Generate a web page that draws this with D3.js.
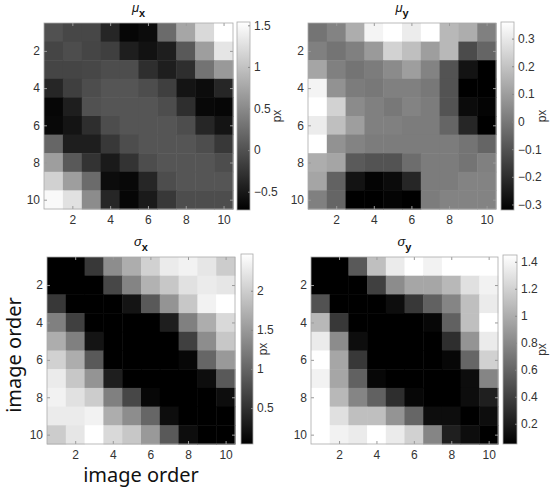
<!DOCTYPE html>
<html>
<head>
<meta charset="utf-8">
<script src="https://cdn.jsdelivr.net/npm/d3@7"></script>
<style>
  body { margin: 0; background: #fff; }
  text { font-family: "Liberation Sans", Arial, sans-serif; }
</style>
</head>
<body>
<script>
'use strict';

// image order 1..10 on both axes
const order = d3.range(1, 11);
const axisTicks = [2, 4, 6, 8, 10];

// mean x offset (px), rows = image order (top to bottom)
const muX = [
  [0.00, -0.09, -0.09, -0.38, -0.67, -0.61, 0.23, 0.75, 1.20, 1.54],
  [-0.11, -0.04, -0.11, -0.16, -0.45, -0.56, -0.45, 0.07, 0.68, 1.31],
  [-0.11, -0.11, -0.09, -0.04, -0.04, -0.31, -0.45, -0.31, 0.30, 0.64],
  [-0.38, -0.16, -0.04, 0.03, 0.03, -0.04, -0.16, -0.54, -0.61, -0.38],
  [-0.67, -0.45, 0.00, 0.03, 0.03, 0.03, -0.04, -0.31, -0.65, -0.67],
  [-0.65, -0.54, -0.31, -0.04, 0.03, 0.03, 0.03, -0.04, -0.38, -0.54],
  [0.18, -0.45, -0.45, -0.22, -0.04, 0.03, 0.03, 0.03, -0.04, -0.22],
  [0.68, 0.07, -0.27, -0.49, -0.27, -0.04, 0.03, 0.03, 0.03, -0.04],
  [1.13, 0.68, 0.23, -0.61, -0.65, -0.38, -0.04, 0.03, 0.03, 0.03],
  [1.49, 1.27, 0.52, -0.38, -0.67, -0.49, -0.22, -0.04, -0.04, -0.04]
];

// mean y offset (px)
const muY = [
  [-0.01, 0.03, 0.14, 0.33, 0.36, 0.31, 0.36, 0.17, 0.14, 0.02],
  [0.02, -0.01, 0.02, 0.09, 0.24, 0.19, 0.10, 0.17, -0.12, -0.05],
  [0.12, 0.02, -0.01, 0.01, 0.05, 0.10, 0.03, -0.10, -0.27, -0.32],
  [0.33, 0.07, 0.01, 0.00, 0.02, 0.02, 0.00, -0.10, -0.32, -0.32],
  [0.36, 0.24, 0.05, 0.02, 0.00, 0.03, 0.01, -0.10, -0.29, -0.31],
  [0.31, 0.19, 0.10, 0.02, 0.02, 0.01, 0.01, -0.05, -0.22, -0.32],
  [0.36, 0.07, 0.03, 0.01, 0.01, 0.01, 0.01, 0.01, -0.01, -0.05],
  [0.14, 0.12, -0.08, -0.10, -0.10, -0.03, 0.01, 0.01, -0.01, 0.02],
  [0.12, -0.06, -0.27, -0.31, -0.29, -0.22, 0.01, 0.01, 0.03, 0.03],
  [0.02, -0.05, -0.32, -0.32, -0.31, -0.32, 0.01, 0.03, 0.03, 0.03]
];

// spread in x (px)
const sigmaX = [
  [0.04, 0.04, 0.57, 1.38, 1.69, 2.03, 2.28, 2.35, 2.23, 1.98],
  [0.04, 0.04, 0.04, 0.72, 1.30, 1.74, 1.94, 2.18, 2.28, 2.23],
  [0.57, 0.04, 0.04, 0.04, 0.23, 0.89, 1.45, 1.94, 2.35, 2.47],
  [1.26, 0.65, 0.04, 0.04, 0.04, 0.04, 0.33, 1.26, 1.69, 2.11],
  [1.69, 1.26, 0.23, 0.04, 0.04, 0.04, 0.04, 0.65, 1.38, 1.94],
  [2.03, 1.69, 0.89, 0.04, 0.04, 0.04, 0.04, 0.11, 1.01, 1.50],
  [2.28, 1.94, 1.45, 0.33, 0.04, 0.04, 0.04, 0.04, 0.16, 0.89],
  [2.35, 2.18, 1.98, 1.26, 0.72, 0.11, 0.04, 0.04, 0.04, 0.16],
  [2.28, 2.28, 2.35, 1.69, 1.38, 1.01, 0.16, 0.04, 0.04, 0.04],
  [1.98, 2.23, 2.47, 2.11, 1.94, 1.50, 0.89, 0.16, 0.04, 0.04]
];

// spread in y (px)
const sigmaY = [
  [0.05, 0.05, 0.54, 1.10, 1.34, 1.45, 1.38, 1.45, 1.45, 1.45],
  [0.05, 0.05, 0.05, 0.40, 0.82, 0.96, 0.96, 1.06, 1.28, 1.38],
  [0.50, 0.05, 0.05, 0.05, 0.12, 0.36, 0.58, 0.78, 1.10, 1.34],
  [1.06, 0.36, 0.05, 0.05, 0.05, 0.05, 0.09, 0.58, 1.10, 1.45],
  [1.34, 0.82, 0.12, 0.05, 0.05, 0.05, 0.05, 0.30, 0.86, 1.34],
  [1.45, 0.96, 0.36, 0.05, 0.05, 0.05, 0.05, 0.09, 0.61, 1.20],
  [1.38, 0.96, 0.58, 0.09, 0.05, 0.05, 0.05, 0.05, 0.12, 0.78],
  [1.45, 1.06, 0.78, 0.58, 0.30, 0.09, 0.05, 0.05, 0.12, 0.22],
  [1.45, 1.28, 1.10, 1.10, 0.86, 0.61, 0.12, 0.12, 0.05, 0.12],
  [1.45, 1.38, 1.34, 1.45, 1.34, 1.20, 0.78, 0.22, 0.12, 0.05]
];

// colour limits and colorbar ticks
const muXLimits = [-0.72, 1.54];
const muYLimits = [-0.32, 0.36];
const sigmaXLimits = [0.04, 2.47];
const sigmaYLimits = [0.05, 1.45];
const muXTicks = [-0.5, 0, 0.5, 1, 1.5];
const muYTicks = [-0.3, -0.2, -0.1, 0, 0.1, 0.2, 0.3];
const sigmaXTicks = [0.5, 1, 1.5, 2];
const sigmaYTicks = [0.2, 0.4, 0.6, 0.8, 1, 1.2, 1.4];

const svg = d3.select('body')
  .append('svg')
  .attr('width', 550)
  .attr('height', 492);

const panels = [
  { grid: muX, limits: muXLimits, cbTicks: muXTicks, sym: 'μ', sub: 'x',
    box: { x: 44, y: 23, w: 189, h: 186 }, cb: { x: 237, y: 22, w: 13, h: 188 }, unitX: 281 },
  { grid: muY, limits: muYLimits, cbTicks: muYTicks, sym: 'μ', sub: 'y',
    box: { x: 308, y: 23, w: 188, h: 186 }, cb: { x: 501, y: 22, w: 13, h: 188 }, unitX: 546 },
  { grid: sigmaX, limits: sigmaXLimits, cbTicks: sigmaXTicks, sym: 'σ', sub: 'x',
    box: { x: 47, y: 257, w: 188, h: 187 }, cb: { x: 241, y: 254, w: 12, h: 190 }, unitX: 267 },
  { grid: sigmaY, limits: sigmaYLimits, cbTicks: sigmaYTicks, sym: 'σ', sub: 'y',
    box: { x: 311, y: 257, w: 187, h: 187 }, cb: { x: 503, y: 255, w: 14, h: 189 }, unitX: 546 }
];

const defs = svg.append('defs');
const grad = defs.append('linearGradient')
  .attr('id', 'grayRamp')
  .attr('x1', 0).attr('y1', 1).attr('x2', 0).attr('y2', 0);
grad.append('stop').attr('offset', '0%').attr('stop-color', '#000');
grad.append('stop').attr('offset', '100%').attr('stop-color', '#fff');

panels.forEach(drawPanel);

// shared axis labels
svg.append('text')
  .attr('transform', 'translate(21, 355) rotate(-90)')
  .attr('text-anchor', 'middle')
  .style('font-family', '"Noto Sans", sans-serif')
  .style('font-size', '20px')
  .attr('fill', '#111')
  .text('image order');

svg.append('text')
  .attr('x', 141)
  .attr('y', 482)
  .attr('text-anchor', 'middle')
  .style('font-family', '"Noto Sans", sans-serif')
  .style('font-size', '20px')
  .attr('fill', '#111')
  .text('image order');

function drawPanel(p) {
  const b = p.box;
  const g = svg.append('g');

  const xBand = d3.scaleBand().domain(order).range([b.x, b.x + b.w]);
  const yBand = d3.scaleBand().domain(order).range([b.y, b.y + b.h]);
  const xLin = d3.scaleLinear().domain([0.5, 10.5]).range([b.x, b.x + b.w]);
  const yLin = d3.scaleLinear().domain([0.5, 10.5]).range([b.y, b.y + b.h]);
  const color = d3.scaleLinear().domain(p.limits).range(['#000', '#fff']).clamp(true);

  // cells
  const cells = [];
  p.grid.forEach((row, i) => row.forEach((v, j) => cells.push({ r: order[i], c: order[j], v: v })));
  g.selectAll('rect.cell')
    .data(cells).enter()
    .append('rect')
      .attr('class', 'cell')
      .attr('x', d => xBand(d.c))
      .attr('y', d => yBand(d.r))
      .attr('width', xBand.bandwidth() + 0.5)
      .attr('height', yBand.bandwidth() + 0.5)
      .attr('fill', d => color(d.v));

  // axes with inward ticks
  const left = g.append('g')
    .attr('transform', 'translate(' + b.x + ',0)')
    .call(d3.axisLeft(yLin).tickValues(axisTicks).tickSize(-3).tickPadding(4));
  const bottom = g.append('g')
    .attr('transform', 'translate(0,' + (b.y + b.h) + ')')
    .call(d3.axisBottom(xLin).tickValues(axisTicks).tickSize(-3).tickPadding(6));
  g.append('g')
    .attr('transform', 'translate(' + (b.x + b.w) + ',0)')
    .call(d3.axisRight(yLin).tickValues(axisTicks).tickSize(-3).tickFormat(''));
  g.append('g')
    .attr('transform', 'translate(0,' + b.y + ')')
    .call(d3.axisTop(xLin).tickValues(axisTicks).tickSize(-3).tickFormat(''));
  g.selectAll('.domain').remove();
  g.selectAll('.tick line').attr('stroke', '#999');
  [left, bottom].forEach(a => a.selectAll('text')
    .style('font-size', '12px')
    .attr('fill', '#333'));

  g.append('rect')
    .attr('x', b.x).attr('y', b.y)
    .attr('width', b.w).attr('height', b.h)
    .attr('fill', 'none')
    .attr('stroke', '#aaa')
    .attr('stroke-width', 0.8);

  // title
  const title = g.append('text')
    .attr('x', b.x + b.w / 2)
    .attr('y', b.y - 11)
    .attr('text-anchor', 'middle')
    .attr('fill', '#111');
  title.append('tspan')
    .style('font-size', '13px')
    .style('font-style', 'italic')
    .text(p.sym);
  title.append('tspan')
    .attr('dy', 5)
    .style('font-size', '11px')
    .style('font-weight', 'bold')
    .text(p.sub);

  // colorbar
  const cb = p.cb;
  const cbScale = d3.scaleLinear().domain(p.limits).range([cb.y + cb.h, cb.y]);
  g.append('rect')
    .attr('x', cb.x).attr('y', cb.y)
    .attr('width', cb.w).attr('height', cb.h)
    .attr('fill', 'url(#grayRamp)')
    .attr('stroke', '#aaa')
    .attr('stroke-width', 0.8);
  const cbAxis = g.append('g')
    .attr('transform', 'translate(' + (cb.x + cb.w) + ',0)')
    .call(d3.axisRight(cbScale).tickValues(p.cbTicks).tickSize(-2).tickPadding(4).tickFormat(d3.format('')));
  cbAxis.select('.domain').remove();
  cbAxis.selectAll('.tick line').attr('stroke', '#888');
  cbAxis.selectAll('text')
    .style('font-size', '12px')
    .attr('fill', '#333');

  g.append('text')
    .attr('transform', 'translate(' + p.unitX + ',' + (cb.y + cb.h / 2) + ') rotate(-90)')
    .attr('text-anchor', 'middle')
    .style('font-size', '12px')
    .attr('fill', '#333')
    .text('px');
}
</script>
</body>
</html>
